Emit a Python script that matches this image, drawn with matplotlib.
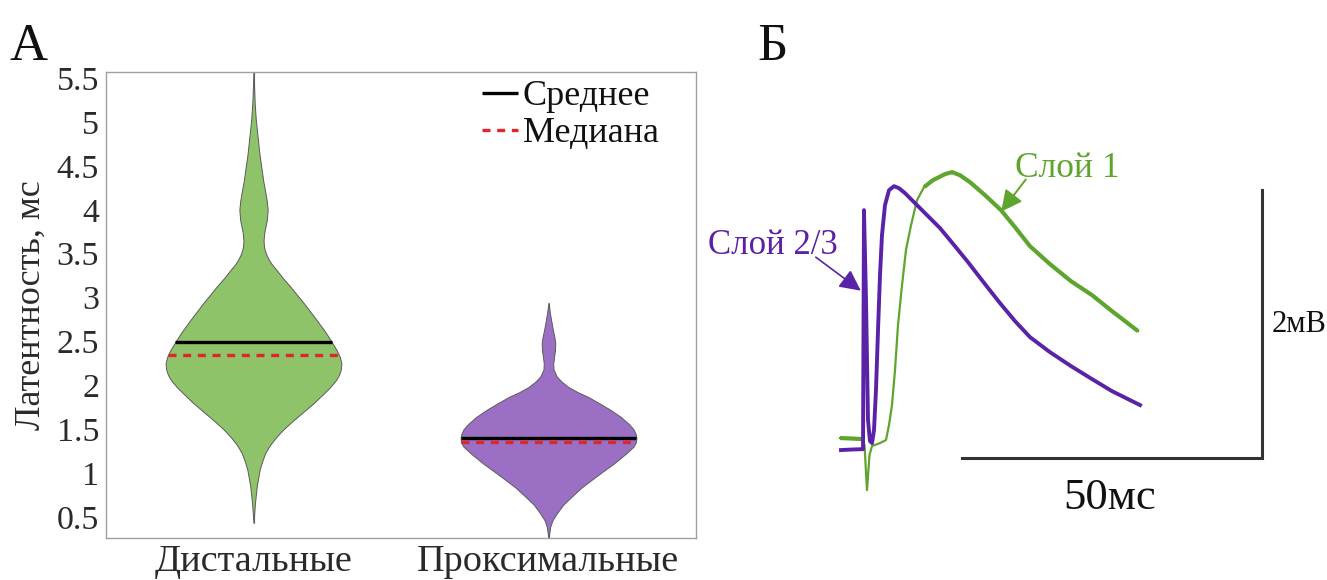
import matplotlib
matplotlib.use("Agg")
import matplotlib.pyplot as plt
import numpy as np

plt.rcParams["font.family"] = ["Liberation Serif", "DejaVu Serif"]

# ---- panel A: latency distributions (kernel density outlines) ----
groups = ["Дистальные", "Проксимальные"]
positions = [1, 2]

dist_lat = [5.60, 5.40, 5.21, 5.02, 4.83, 4.64, 4.45, 4.33, 4.20, 4.10, 4.00, 3.88,
            3.75, 3.65, 3.57, 3.50, 3.43, 3.38, 3.31, 3.22, 3.12, 3.02, 2.93, 2.85,
            2.74, 2.60, 2.50, 2.40, 2.32, 2.25, 2.18, 2.12, 2.06, 1.98, 1.90, 1.80,
            1.70, 1.60, 1.50, 1.41, 1.32, 1.23, 1.13, 1.04, 0.85, 0.66, 0.43]
dist_dens = [0.0, 0.002, 0.004, 0.008, 0.014, 0.020, 0.028, 0.033, 0.040, 0.045, 0.048, 0.045,
             0.037, 0.034, 0.036, 0.042, 0.052, 0.062, 0.079, 0.100, 0.126, 0.150, 0.172, 0.190,
             0.215, 0.245, 0.264, 0.282, 0.293, 0.298, 0.296, 0.290, 0.280, 0.260, 0.236, 0.205,
             0.170, 0.135, 0.102, 0.077, 0.056, 0.040, 0.029, 0.021, 0.011, 0.005, 0.0]

prox_lat = [2.94, 2.82, 2.72, 2.63, 2.55, 2.48, 2.40, 2.33, 2.25, 2.18, 2.10, 2.04,
            1.98, 1.92, 1.87, 1.80, 1.72, 1.64, 1.56, 1.50, 1.44, 1.40, 1.35, 1.30,
            1.22, 1.11, 1.02, 0.92, 0.83, 0.73, 0.64, 0.54, 0.46, 0.39, 0.30, 0.20]
prox_dens = [0.0, 0.005, 0.010, 0.015, 0.020, 0.023, 0.022, 0.019, 0.016, 0.017, 0.028, 0.045,
             0.068, 0.100, 0.133, 0.170, 0.210, 0.245, 0.272, 0.288, 0.296, 0.298, 0.296, 0.288,
             0.262, 0.222, 0.185, 0.145, 0.110, 0.078, 0.050, 0.028, 0.013, 0.006, 0.002, 0.0]

lat_range = [(0.43, 5.60), (0.20, 2.94)]
means = [2.49, 1.40]
medians = [2.35, 1.35]

violin_colors = ["#8ec36a", "#9b70c4"]

# ---- panel Б: example responses (ms, mV) ----
l23_t = [-3.5, -1.67, 0.17, 0.33, 0.67, 1.0, 1.33, 1.67, 2.0, 2.33, 2.67, 3.0, 3.33,
         3.83, 4.5, 5.33, 6.17, 7.17, 9.67, 13.0, 15.5, 17.67, 20.5, 23.0, 25.5, 28.0,
         31.33, 34.83, 38.33, 41.67, 44.67, 46.33]
l23_v = [0.0, 0.004, 0.007, 1.791, 1.119, 0.224, 0.067, 0.052, 0.149, 0.448, 0.896,
         1.306, 1.604, 1.828, 1.94, 1.97, 1.955, 1.918, 1.806, 1.657, 1.522, 1.403,
         1.239, 1.097, 0.963, 0.843, 0.731, 0.627, 0.530, 0.440, 0.373, 0.336]

l1_t = [-3.67, -1.67, 0.0, 0.42, 0.83, 1.25, 1.67, 3.0, 4.0, 4.5, 5.0, 5.5, 6.0, 6.67,
        7.33, 8.17, 9.17, 10.33, 11.83, 13.83, 15.0, 16.33, 18.0, 20.5, 23.17, 25.5,
        28.0, 31.33, 34.83, 38.33, 41.67, 43.83, 46.0]
l1_v = [0.09, 0.086, 0.082, 0.037, -0.299, -0.037, 0.030, 0.052, 0.075, 0.187, 0.336,
        0.597, 0.933, 1.231, 1.493, 1.679, 1.866, 1.963, 2.015, 2.06, 2.075, 2.052,
        2.0, 1.903, 1.791, 1.664, 1.522, 1.388, 1.261, 1.157, 1.037, 0.963, 0.888]

bar_ms = 50
bar_mv = 2
bar_origin = (16.7, -0.06)

l23_color = "#5a22a6"
l1_color = "#5ea52e"

fig = plt.figure(figsize=(13.27, 5.8), dpi=100)
fig.patch.set_facecolor("white")

ax = fig.add_axes([106 / 1327, 42 / 580, 590 / 1327, 466 / 580])
for i, (lat, dens) in enumerate([(dist_lat, dist_dens), (prox_lat, prox_dens)]):
    pos = positions[i]
    lat = np.array(lat)
    dens = np.array(dens)
    ax.vlines(pos, *lat_range[i], color="#555555", lw=0.8, zorder=1)
    ax.fill_betweenx(lat, pos - dens, pos + dens, facecolor=violin_colors[i],
                     edgecolor="#5a5a5a", lw=0.7, zorder=2)
    order = np.argsort(lat)
    hw_mean = np.interp(means[i], lat[order], dens[order])
    hw_med = np.interp(medians[i], lat[order], dens[order])
    ax.hlines(means[i], pos - hw_mean, pos + hw_mean, color="black", lw=2.4,
              zorder=3, label="Среднее" if i == 0 else None)
    ax.hlines(medians[i], pos - hw_med, pos + hw_med, color="#e0262b", lw=2.4,
              linestyles=(0, (2.4, 2.0)), zorder=3,
              label="Медиана" if i == 0 else None)

ax.set_xlim(0.5, 2.5)
ax.set_ylim(0.26, 5.57)
ax.set_yticks([0.5, 1, 1.5, 2, 2.5, 3, 3.5, 4, 4.5, 5, 5.5])
ax.set_yticklabels(["0.5", "1", "1.5", "2", "2.5", "3", "3.5", "4", "4.5", "5", "5.5"])
ax.set_xticks(positions)
ax.set_xticklabels(groups)
ax.tick_params(axis="both", length=0, labelsize=24.5, colors="#2a2a2a")
ax.tick_params(axis="x", pad=4.5, labelsize=27.5)
ax.tick_params(axis="y", pad=5)
ax.set_ylabel("Латентность, мс", fontsize=26, labelpad=6, color="#2a2a2a")
for sp in ax.spines.values():
    sp.set_color("#a0a0a0")
    sp.set_linewidth(1.0)

leg = ax.legend(loc="upper left", bbox_to_anchor=(0.595, 1.037), frameon=False,
                fontsize=26, handlelength=1.0, handletextpad=0.12,
                labelspacing=0.1, borderpad=0.2)
for t in leg.get_texts():
    t.set_color("#111111")

# ---- traces ----
ax2 = fig.add_axes([700 / 1327, 0, 627 / 1327, 1])
ax2.set_xlim(-27, 77.5)
ax2.set_ylim(-0.97, 3.36)
ax2.axis("off")

ax2.plot(l1_t, l1_v, color=l1_color, lw=1.6, solid_joinstyle="round")
n_pre = 3
n_peak = 17
ax2.plot(l1_t[:n_pre], l1_v[:n_pre], color=l1_color, lw=3.0, solid_capstyle="butt")
ax2.plot(l1_t[n_peak:], l1_v[n_peak:], color=l1_color, lw=3.0,
         solid_capstyle="butt", solid_joinstyle="round")
ax2.plot(l23_t, l23_v, color=l23_color, lw=2.8, solid_joinstyle="round")

x0, y0 = bar_origin
ax2.plot([x0, x0 + bar_ms, x0 + bar_ms], [y0, y0, y0 + bar_mv],
         color="#333333", lw=2.2, solid_joinstyle="miter")
ax2.text(x0 + bar_ms * 0.49, y0 - 0.15, f"{bar_ms}мс", ha="center", va="top",
         fontsize=32, color="#111111")
ax2.text(x0 + bar_ms + 1.6, y0 + bar_mv * 0.5, f"{bar_mv}мВ", ha="left",
         va="center", fontsize=22, color="#111111")

ax2.text(-14.8, 1.53, "Слой 2/3", ha="center", va="center", fontsize=25,
         color=l23_color)
ax2.annotate("", xy=(-0.2, 1.19), xytext=(-7.7, 1.44),
             arrowprops=dict(arrowstyle="-|>", color=l23_color, lw=1.2,
                             mutation_scale=32, shrinkA=0, shrinkB=0))
ax2.text(34.2, 2.10, "Слой 1", ha="center", va="center", fontsize=25.5,
         color=l1_color)
ax2.annotate("", xy=(23.2, 1.78), xytext=(27.3, 2.02),
             arrowprops=dict(arrowstyle="-|>", color=l1_color, lw=1.4,
                             mutation_scale=32, shrinkA=0, shrinkB=0))

fig.text(10 / 1327, 1 - 60 / 580, "А", fontsize=38, va="baseline", ha="left", color="#111111")
fig.text(757 / 1327, 1 - 60 / 580, "Б", fontsize=38, va="baseline", ha="left", color="#111111")

fig.savefig("out.png", dpi=100, facecolor="white")
